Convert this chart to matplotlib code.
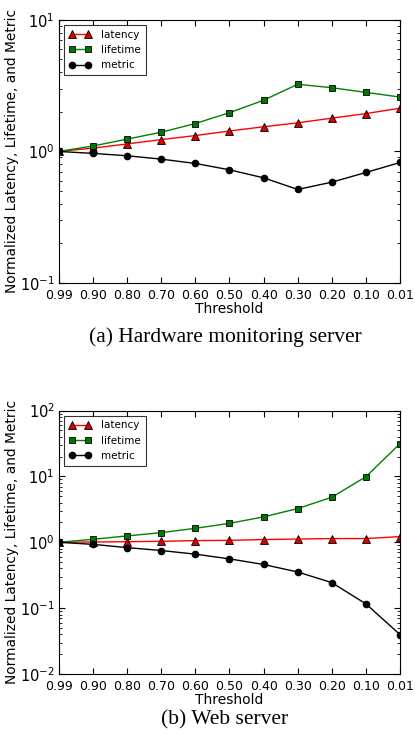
import numpy as np
import matplotlib
matplotlib.use("Agg")
import matplotlib.pyplot as plt
from matplotlib.ticker import LogLocator, NullFormatter

thresholds = ["0.99", "0.90", "0.80", "0.70", "0.60", "0.50", "0.40", "0.30", "0.20", "0.10", "0.01"]

# (a) Hardware monitoring server
hw_latency = [1.00, 1.06, 1.14, 1.23, 1.32, 1.43, 1.54, 1.65, 1.79, 1.94, 2.13]
hw_lifetime = [1.00, 1.10, 1.24, 1.40, 1.63, 1.97, 2.45, 3.24, 3.05, 2.81, 2.59]
hw_metric = [1.00, 0.966, 0.927, 0.874, 0.81, 0.725, 0.63, 0.514, 0.584, 0.692, 0.824]

# (b) Web server
web_latency = [1.00, 1.01, 1.02, 1.035, 1.06, 1.07, 1.10, 1.12, 1.14, 1.14, 1.22]
web_lifetime = [1.00, 1.11, 1.25, 1.40, 1.63, 1.94, 2.43, 3.25, 4.83, 9.9, 31.5]
web_metric = [1.00, 0.93, 0.83, 0.75, 0.66, 0.56, 0.46, 0.354, 0.244, 0.116, 0.0396]

captions = ["(a) Hardware monitoring server", "(b) Web server"]
ylims = [(0.1, 10), (0.01, 100)]

plt.rcParams["font.family"] = "DejaVu Sans"
plt.rcParams["font.size"] = 8


def draw_panel(ax, latency, lifetime, metric, ylim):
    x = np.arange(len(thresholds))
    ax.plot(x, latency, color="red", marker="^", markersize=5.5, markerfacecolor="#dd0000",
            markeredgecolor="black", markeredgewidth=0.6, linewidth=1, label="latency")
    ax.plot(x, lifetime, color="green", marker="s", markersize=5, markerfacecolor="#007700",
            markeredgecolor="black", markeredgewidth=0.6, linewidth=1, label="lifetime")
    ax.plot(x, metric, color="black", marker="o", markersize=4.5, markerfacecolor="black",
            markeredgecolor="black", linewidth=1, label="metric")
    ax.set_yscale("log")
    ax.set_ylim(*ylim)
    ax.set_xlim(0, len(thresholds) - 1)
    ax.set_xticks(x)
    ax.set_xticklabels(thresholds)
    ax.yaxis.set_major_locator(LogLocator(base=10))
    ax.yaxis.set_minor_locator(LogLocator(base=10, subs=np.arange(2, 10)))
    ax.yaxis.set_minor_formatter(NullFormatter())
    ax.tick_params(which="both", direction="in", top=True, right=True, labelsize=9)
    ax.tick_params(axis="y", which="major", labelsize=10.5, pad=3)
    ax.tick_params(which="major", length=4)
    ax.tick_params(axis="x", which="major", pad=4)
    ax.tick_params(which="minor", length=2)
    ax.set_xlabel("Threshold", fontsize=10, labelpad=0)
    ax.set_ylabel("Normalized Latency, Lifetime, and Metric", fontsize=9.9, labelpad=1)
    leg = ax.legend(loc="upper left", numpoints=2, fontsize=7.5, fancybox=False,
                    handlelength=2.1, borderpad=0.45, labelspacing=0.5, handletextpad=1.0)
    leg.get_frame().set_edgecolor("black")
    leg.get_frame().set_linewidth(0.8)


fig = plt.figure(figsize=(4.15, 7.36), dpi=100)
ax1 = fig.add_axes([0.142, 0.6155, 0.822, 0.3575])
ax2 = fig.add_axes([0.142, 0.0842, 0.822, 0.358])

draw_panel(ax1, hw_latency, hw_lifetime, hw_metric, ylims[0])
draw_panel(ax2, web_latency, web_lifetime, web_metric, ylims[1])

fig.text(0.542, 1 - 337 / 736, captions[0], ha="center", va="center",
         family="Liberation Serif", fontsize=15.5)
fig.text(0.542, 1 - 720 / 736, captions[1], ha="center", va="center",
         family="Liberation Serif", fontsize=15.5)

fig.savefig("out.png", dpi=100)
